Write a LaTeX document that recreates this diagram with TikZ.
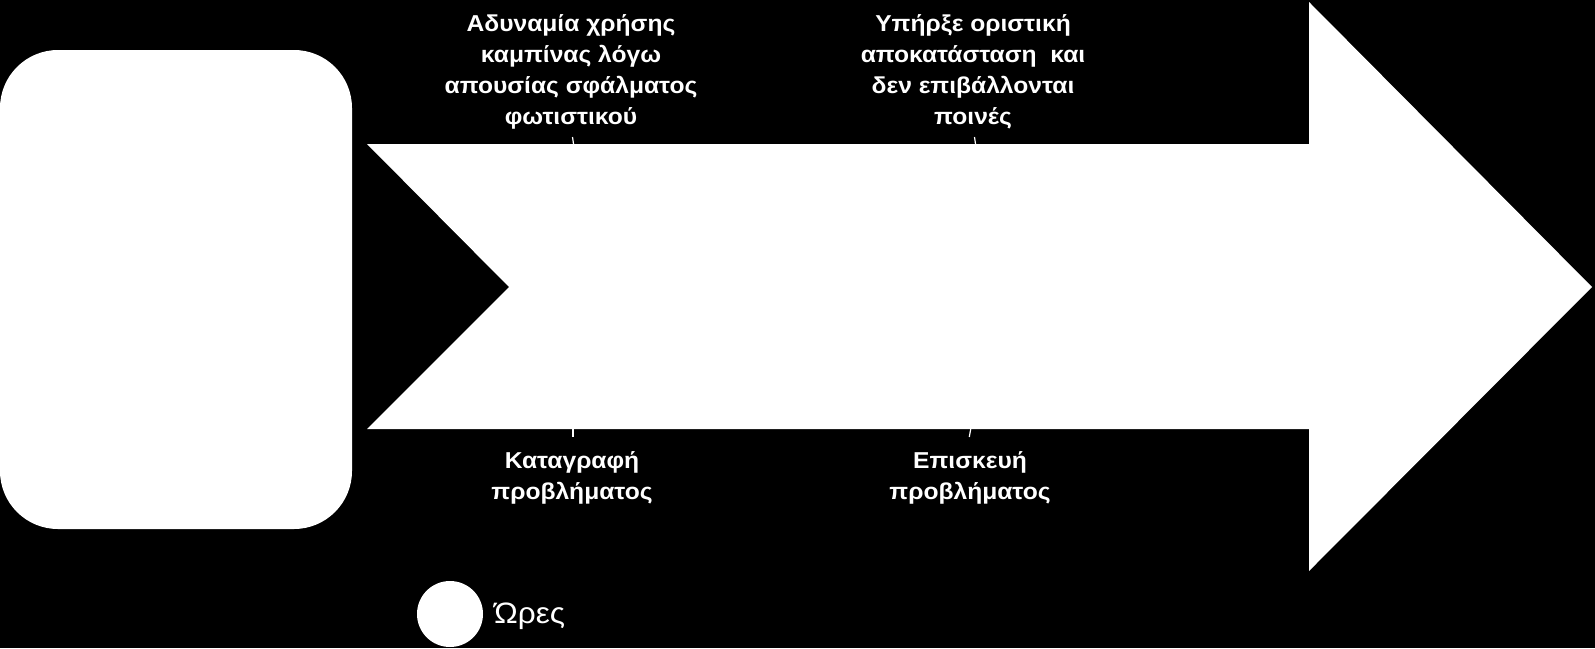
\documentclass[tikz,border=0pt]{standalone}
\usepackage{fontspec}
\setmainfont{Liberation Sans}
\newfontfamily\lblfont[FakeStretch=1.07]{Liberation Sans}
\begin{document}
\begin{tikzpicture}[x=1pt,y=-1pt,
  lbl/.style={text=white,align=center,inner sep=0pt,font=\lblfont\bfseries\fontsize{23}{31}\selectfont},
  tick/.style={draw=white,line width=1.2pt},
  shapefill/.style={fill=white,draw=none}]
\fill[black] (0,0) rectangle (1595,648);
\useasboundingbox (0,0) rectangle (1595,648);
% left rounded box
\fill[shapefill,rounded corners=58pt] (0,50) rectangle (352,529);
% big arrow
\fill[shapefill] (367,144) -- (1309,144) -- (1309,2) -- (1592,287) -- (1309,571) -- (1309,429) -- (367,429) -- (509,287) -- cycle;
% labels
\node[lbl] (l1) at (571,72) {Αδυναμία χρήσης\\καμπίνας λόγω\\απουσίας σφάλματος\\φωτιστικού};
\node[lbl] (l2) at (973,72) {Υπήρξε οριστική\\αποκατάσταση\ \ και\\δεν επιβάλλονται\\ποινές};
\node[lbl] (l3) at (572,478) {Καταγραφή\\προβλήματος};
\node[lbl] (l4) at (970,478) {Επισκευή\\προβλήματος};
% ticks
\coordinate (a1) at (572.5,137); \coordinate (b1) at (573.5,144);
\coordinate (a2) at (974.5,137); \coordinate (b2) at (975.5,144);
\coordinate (a3) at (573,429); \coordinate (b3) at (573,437);
\coordinate (a4) at (970.7,429); \coordinate (b4) at (969.3,437);
\draw[tick] (a1) -- (b1);
\draw[tick] (a2) -- (b2);
\draw[tick] (a3) -- (b3);
\draw[tick] (a4) -- (b4);
% legend
\node[circle,fill=white,minimum size=66pt,inner sep=0pt] (c) at (450,614) {};
\node[text=white,anchor=base west,inner sep=0pt,font=\lblfont\fontsize{29.5}{33}\selectfont] (leg) at (494,623) {Ώρες};
\end{tikzpicture}
\end{document}
